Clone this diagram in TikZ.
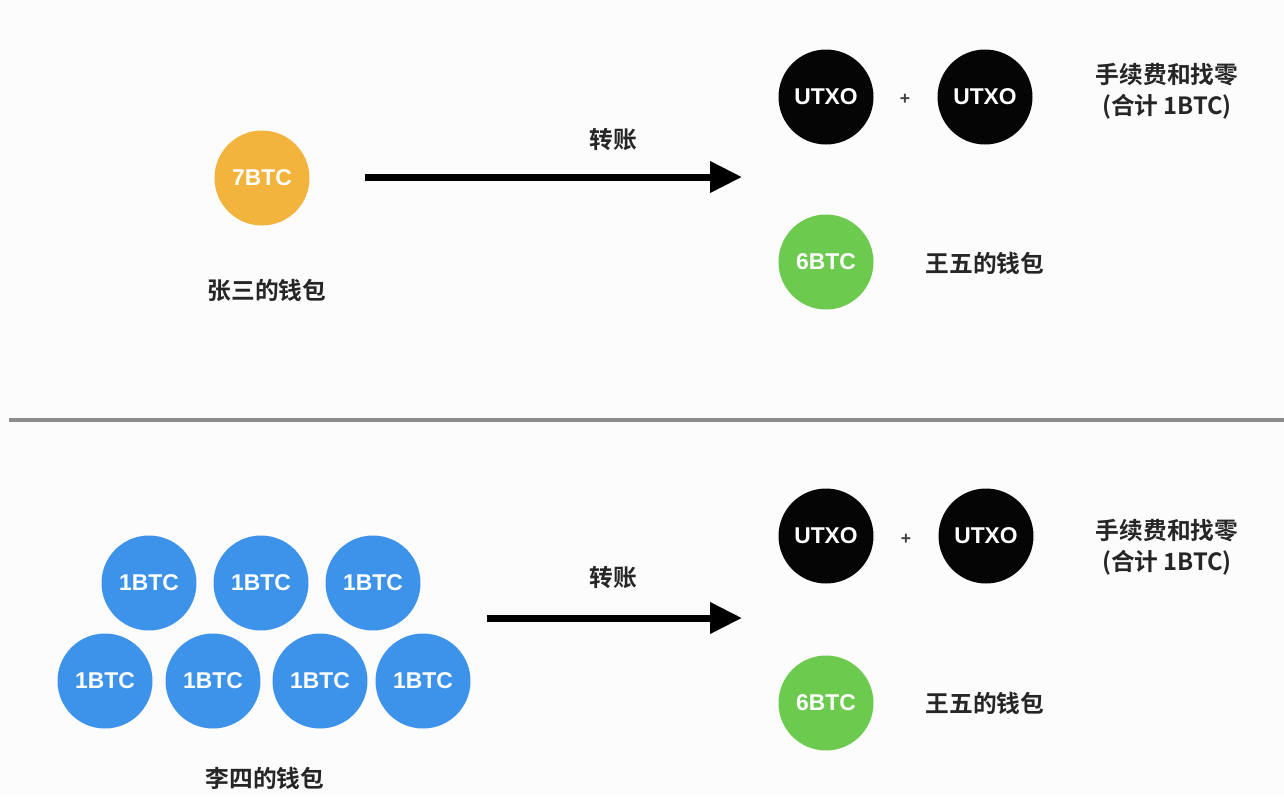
\documentclass[tikz,border=0pt]{standalone}
\usepackage{fontspec}
\setmainfont{Liberation Sans}
\newfontfamily\cjk{Noto Sans CJK SC Bold}
\usetikzlibrary{arrows.meta}
\definecolor{coinorange}{HTML}{F2B43D}
\definecolor{coingreen}{HTML}{6CCB4E}
\definecolor{coinblue}{HTML}{3D93EA}
\definecolor{bggray}{HTML}{FCFCFC}
\definecolor{rulegray}{HTML}{8C8C8C}
\tikzstyle{coin}=[
    circle, inner sep=0pt,
    minimum size=1.9cm,
    text=white,
    font=\fontsize{13}{15}\selectfont\bfseries,
]
\tikzstyle{utxo}=[coin, fill=black!98]
\tikzstyle{cjklabel}=[
    inner sep=0pt, text=black!85,
    font=\cjk\fontsize{13.5}{17.6}\selectfont,
]
\tikzstyle{transfer}=[
    line width=0.14cm,
    -{Triangle[length=0.64cm, width=0.6cm]},
]

\begin{document}
\begin{tikzpicture}[x=0.02cm, y=-0.02cm]
        \fill[bggray] (0,0) rectangle (1284,796);
        \useasboundingbox (0,0) rectangle (1284,796);
        % upper case: one coin
        \node[coin, fill=coinorange] (zhang) at (262,178) {7BTC};
        \node[cjklabel] (zhanglabel) at (267,290) {张三的钱包};
        \coordinate (tstart) at (365,177);
        \coordinate (tend) at (742,177);
        \draw[transfer] (tstart) -- (tend);
        \node[cjklabel] (tlabel) at (613,140) {转账};
        \node[utxo] (tutxoa) at (826,97) {UTXO};
        \node[utxo] (tutxob) at (985,97) {UTXO};
        \node[font=\fontsize{10}{12}\selectfont\bfseries, text=black!75] (tplus) at (905,99) {+};
        \node[cjklabel, align=center] (tfee) at (1167,91) {手续费和找零\\(合计 1BTC)};
        \node[coin, fill=coingreen] (twang) at (826,262) {6BTC};
        \node[cjklabel] (twanglabel) at (985,263) {王五的钱包};
        % separator
        \coordinate (ruleleft) at (9,420);
        \coordinate (ruleright) at (1284,420);
        \draw[rulegray, line width=0.08cm] (ruleleft) -- (ruleright);
        % lower case: seven coins
        \foreach \x [count=\i] in {149,261,373}
            \node[coin, fill=coinblue] (litop\i) at (\x,583) {1BTC};
        \foreach \x [count=\i] in {105,213,320,423}
            \node[coin, fill=coinblue] (libot\i) at (\x,681) {1BTC};
        \node[cjklabel] (lilabel) at (265,778) {李四的钱包};
        \coordinate (bstart) at (487,618);
        \coordinate (bend) at (742,618);
        \draw[transfer] (bstart) -- (bend);
        \node[cjklabel] (blabel) at (613,578) {转账};
        \node[utxo] (butxoa) at (826,536) {UTXO};
        \node[utxo] (butxob) at (986,536) {UTXO};
        \node[font=\fontsize{10}{12}\selectfont\bfseries, text=black!75] (bplus) at (906,539) {+};
        \node[cjklabel, align=center] (bfee) at (1167,547) {手续费和找零\\(合计 1BTC)};
        \node[coin, fill=coingreen] (bwang) at (826,703) {6BTC};
        \node[cjklabel] (bwanglabel) at (985,703) {王五的钱包};
    \end{tikzpicture}
\end{document}
